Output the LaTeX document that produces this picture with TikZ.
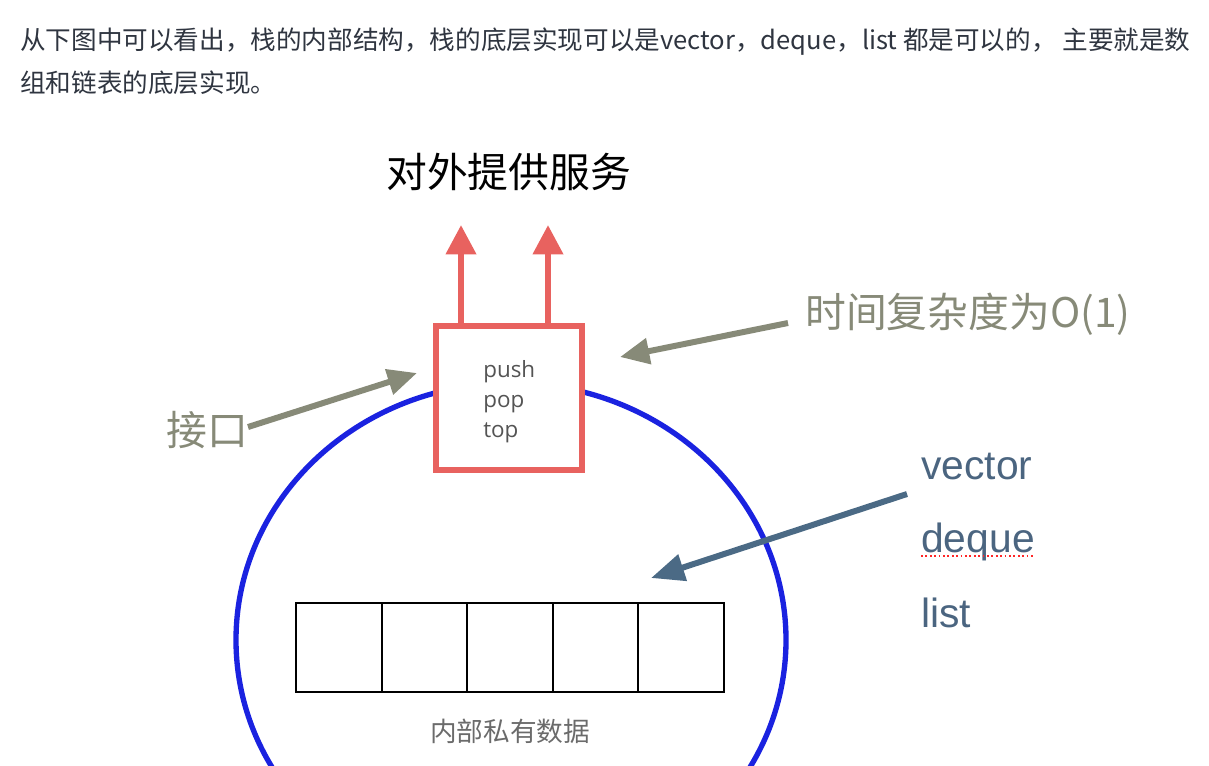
\documentclass[tikz,border=0pt]{standalone}
\usepackage{fontspec}
\usetikzlibrary{arrows.meta,calc}
\newfontfamily\cjk{Noto Sans CJK SC}
\newfontfamily\osans{Open Sans}
\newfontfamily\lsans{Liberation Sans}
\definecolor{olivec}{HTML}{878A78}
\definecolor{slatec}{HTML}{4B6A85}
\definecolor{redc}{HTML}{E8625F}
\definecolor{bluec}{HTML}{1A22E0}
\definecolor{paratext}{HTML}{2F3540}
\definecolor{labtext}{HTML}{4B6580}
\tikzset{
  para/.style={anchor=base west, inner sep=0pt, text=paratext, font=\cjk\fontsize{19.2pt}{22pt}\selectfont},
  olivelab/.style={anchor=base west, inner sep=0pt, text=olivec, font=\cjk\fontsize{30.6pt}{34pt}\selectfont},
  implab/.style={anchor=base west, inner sep=0pt, text=labtext, font=\lsans\fontsize{30.6pt}{34pt}\selectfont},
  oplab/.style={anchor=base west, inner sep=0pt, text=black!67, font=\osans\fontsize{16.8pt}{20pt}\selectfont},
  iface/.style={draw=redc, line width=4.5pt, fill=white, minimum width=109.5pt, minimum height=108pt, inner sep=0pt},
  cell/.style={draw=black, line width=1.5pt, minimum width=64.2pt, minimum height=66.75pt, inner sep=0pt},
  redarrow/.style={draw=redc, line width=4.5pt, -{Triangle[length=22pt, width=22pt]}},
  olivearrow/.style={draw=olivec, line width=4.5pt, -{Triangle[length=22pt, width=19pt]}},
  slatearrow/.style={draw=slatec, line width=4.5pt, -{Triangle[length=25pt, width=20pt]}},
}
\begin{document}
\begin{tikzpicture}[x=0.75pt, y=-0.75pt]
\useasboundingbox (0,0) rectangle (1209,765);
\clip (0,0) rectangle (1209,765);
% paragraph
\node[para] (p1) at (20,49) {从下图中可以看出，栈的内部结构，栈的底层实现可以是vector，deque，list 都是可以的， 主要就是数};
\node[para] (p2) at (20,92) {组和链表的底层实现。};
% title
\node[anchor=base west, inner sep=0pt, font=\cjk\fontsize{30.6pt}{34pt}\selectfont] (title) at (386,187) {对外提供服务};
% ellipse
\draw[bluec, line width=4pt] (511,640) ellipse [x radius=275, y radius=257];
% interface box
\node[iface] (box) at (509,398) {};
\node[oplab] (push) at (483,377) {push};
\node[oplab] (pop) at (483,407) {pop};
\node[oplab] (top) at (483,437) {top};
% red arrows up
\coordinate (t1) at (461,225);
\coordinate (t2) at (548,225);
\draw[redarrow] (box.north -| t1) -- (t1);
\draw[redarrow] (box.north -| t2) -- (t2);
% cells
\foreach \i in {1,...,5}{
  \node[cell] (c\i) at ({296+85.6*(\i-0.5)},647.5) {};
}
\node[anchor=base, inner sep=0pt, text=black!58, font=\cjk\fontsize{20pt}{24pt}\selectfont] (priv) at (510,741) {内部私有数据};
% labels
\node[olivelab] (jk) at (166,445) {接口};
\node[olivelab] (tc) at (805,327) {时间复杂度为O(1)};
\node[implab] (vec) at (921,479) {vector};
\node[implab] (deq) at (921,552) {deque};
\node[implab] (lst) at (921,627) {list};
\draw[red!85, line width=1.3pt, dotted] ($(deq.base west)+(0,4)$) -- ($(deq.base east)+(0,4)$);
% pointer arrows
\coordinate (a1s) at (248,427);
\coordinate (a1e) at (417,373);
\draw[olivearrow] (a1s) -- (a1e);
\coordinate (a2s) at (788,323);
\coordinate (a2e) at (620,357);
\draw[olivearrow] (a2s) -- (a2e);
\coordinate (a3s) at (907,494);
\coordinate (a3e) at (651,578);
\draw[slatearrow] (a3s) -- (a3e);
\end{tikzpicture}
\end{document}
